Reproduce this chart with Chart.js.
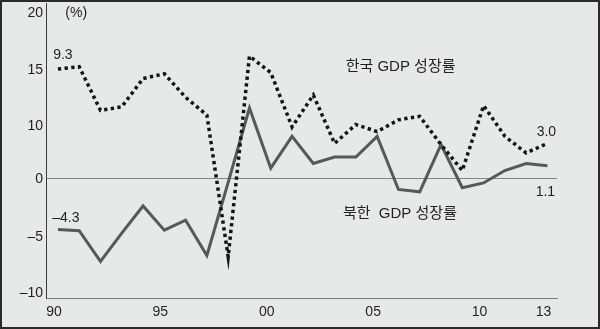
<!DOCTYPE html>
<html lang="ko">
<head>
<meta charset="utf-8">
<script src="https://cdn.jsdelivr.net/npm/chart.js@4/dist/chart.umd.min.js"></script>
<style>
  html, body { margin: 0; padding: 0; background: #e7e8e8; }
  #wrap { width: 600px; height: 329px; position: relative; }
</style>
</head>
<body>
<div id="wrap"><canvas id="gdp" width="600" height="329"></canvas></div>
<script>
// GDP growth rate (%), 1990-2013
const years = [1990, 1991, 1992, 1993, 1994, 1995, 1996, 1997, 1998, 1999, 2000, 2001,
               2002, 2003, 2004, 2005, 2006, 2007, 2008, 2009, 2010, 2011, 2012, 2013];
const southKorea = [9.3, 9.5, 5.8, 6.1, 8.5, 8.9, 6.9, 5.4, -6.6, 10.4, 9.0, 4.4,
                    7.1, 3.0, 4.6, 4.0, 5.0, 5.3, 2.9, 0.7, 6.2, 3.6, 2.2, 3.0];
const northKorea = [-4.3, -4.4, -7.0, -4.6, -2.3, -4.35, -3.5, -6.5, -0.3, 6.0, 0.9, 3.6,
                    1.3, 1.85, 1.85, 3.6, -0.9, -1.1, 2.9, -0.75, -0.35, 0.7, 1.3, 1.1];

// axis ticks
const xTickYears = [1990, 1995, 2000, 2005, 2010, 2013];
const xTickLabels = ['90', '95', '00', '05', '10', '13'];
const yTickAt = [14.03, 9.24, 4.49, 0, -4.92, -9.7];
const yTickLabels = ['20', '15', '10', '0', '\u20135', '\u201310'];

const seriesNames = ['한국 GDP 성장률', '북한  GDP 성장률'];
const unitLabel = '(%)';

const INK = '#231f20';
const LATIN = '"Liberation Sans", Arial, sans-serif';
const KOREAN = '"Liberation Sans", "Noto Sans CJK KR", sans-serif';

function fmt(v) {
  const s = Math.abs(v).toFixed(1);
  return v < 0 ? '\u2013' + s : s;
}

const frame = {
  id: 'frame',
  beforeDraw(chart) {
    const c = chart.ctx;
    c.save();
    c.fillStyle = '#e7e8e8';
    c.fillRect(0, 0, chart.width, chart.height);
    c.restore();
  },
  afterDraw(chart) {
    const c = chart.ctx;
    c.save();
    c.strokeStyle = '#2b2a2a';
    c.lineWidth = 2;
    c.strokeRect(1, 1, chart.width - 2, chart.height - 2);
    c.restore();
  }
};

const labels = {
  id: 'labels',
  afterDatasetsDraw(chart) {
    const c = chart.ctx;
    const xs = chart.scales.x, ys = chart.scales.y;
    c.save();
    c.fillStyle = INK;
    c.textBaseline = 'middle';
    c.textAlign = 'center';
    c.font = '14px ' + LATIN;

    // end-point values
    const sk = chart.getDatasetMeta(0).data;
    const nk = chart.getDatasetMeta(1).data;
    const last = years.length - 1;
    c.fillText(fmt(southKorea[0]), sk[0].x + 5, sk[0].y - 14);
    c.fillText(fmt(northKorea[0]), nk[0].x + 8, nk[0].y - 11);
    c.fillText(fmt(southKorea[last]), sk[last].x - 1, sk[last].y - 11);
    c.fillText(fmt(northKorea[last]), nk[last].x - 2, nk[last].y + 26);

    // unit
    c.textAlign = 'left';
    c.fillText(unitLabel, xs.getPixelForValue(1990.35), ys.getPixelForValue(14.05));

    // series names
    c.textAlign = 'center';
    c.font = '15px ' + KOREAN;
    c.fillText(seriesNames[0], xs.getPixelForValue(2006.1), ys.getPixelForValue(9.45));
    c.fillText(seriesNames[1], xs.getPixelForValue(2006.07), ys.getPixelForValue(-3.0));
    c.restore();
  }
};

function noEdgePadding(scale) {
  scale.paddingTop = 0;
  scale.paddingBottom = 0;
  scale.paddingLeft = 0;
  scale.paddingRight = 0;
}

new Chart(document.getElementById('gdp'), {
  type: 'line',
  data: {
    labels: years,
    datasets: [
      {
        label: seriesNames[0],
        data: years.map((y, i) => ({ x: y, y: southKorea[i] })),
        borderColor: '#141414',
        borderWidth: 3.5,
        borderDash: [3.3, 3.4],
        borderCapStyle: 'butt',
        borderJoinStyle: 'miter',
        pointRadius: 0,
        tension: 0,
        fill: false
      },
      {
        label: seriesNames[1],
        data: years.map((y, i) => ({ x: y, y: northKorea[i] })),
        borderColor: '#58585a',
        borderWidth: 3,
        borderCapStyle: 'butt',
        borderJoinStyle: 'miter',
        pointRadius: 0,
        tension: 0,
        fill: false
      }
    ]
  },
  options: {
    responsive: false,
    animation: false,
    devicePixelRatio: 1,
    layout: { padding: { left: 0, right: 43, top: 3, bottom: 0 } },
    plugins: { legend: { display: false }, tooltip: { enabled: false } },
    scales: {
      x: {
        type: 'linear',
        min: 1989.44,
        max: 2013.45,
        afterBuildTicks(scale) { scale.ticks = xTickYears.map(v => ({ value: v })); },
        afterFit(scale) { scale.height = 31; noEdgePadding(scale); },
        ticks: {
          autoSkip: false,
          maxRotation: 0,
          padding: 6,
          labelOffset: -4,
          color: INK,
          font: { family: LATIN, size: 14 },
          callback: (v, i) => xTickLabels[i]
        },
        grid: { display: false, drawTicks: false },
        border: { display: true, color: '#7d7d7d', width: 1 }
      },
      y: {
        type: 'linear',
        min: -10.1,
        max: 14.9,
        afterBuildTicks(scale) { scale.ticks = yTickAt.map(v => ({ value: v })); },
        afterFit(scale) { scale.width = 46; noEdgePadding(scale); },
        ticks: {
          autoSkip: false,
          padding: 3,
          color: INK,
          font: { family: LATIN, size: 14 },
          callback: (v, i) => yTickLabels[i]
        },
        grid: {
          drawTicks: false,
          color: ctx => (ctx.tick && ctx.tick.value === 0 ? '#858585' : 'rgba(0,0,0,0)'),
          lineWidth: 1
        },
        border: { display: true, color: '#3a3a3a', width: 1 }
      }
    }
  },
  plugins: [frame, labels]
});
</script>
</body>
</html>
